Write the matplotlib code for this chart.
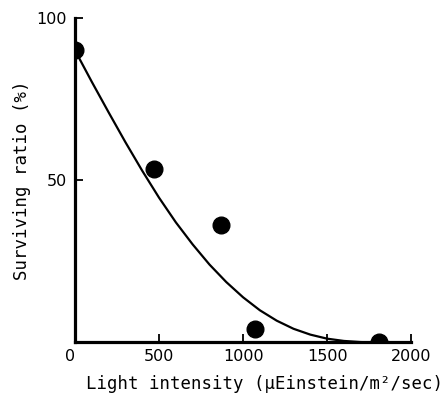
import numpy as np
import matplotlib
matplotlib.use("Agg")
import matplotlib.pyplot as plt

# measured points
light = [0, 472, 869, 1071, 1811]
surviving = [90, 53.3, 36.2, 4.1, 0]

# fitted curve
curve_x = [0, 100, 200, 300, 400, 500, 600, 700, 800, 900, 1000,
           1100, 1200, 1300, 1400, 1500, 1600, 1700, 1800]
curve_y = [90, 80.3, 70.9, 61.7, 52.9, 44.6, 37.0, 30.2, 24.0, 18.6, 13.9,
           9.9, 6.7, 4.2, 2.4, 1.15, 0.45, 0.1, 0]

xticks = [0, 500, 1000, 1500, 2000]
yticks = [50, 100]

fig = plt.figure(figsize=(4.44, 4.0), dpi=100)
ax = fig.add_axes([0.169, 0.144, 0.757, 0.811])

ax.plot(curve_x, curve_y, color="black", lw=1.6, zorder=2)
# points sitting on the axes are cut in half in the original
pts = ax.scatter(light, surviving, s=12**2, color="black", zorder=3)
pts.set_clip_path(ax.patch)

ax.set_xlim(0, 2000)
ax.set_ylim(0, 100)
ax.set_xticks(xticks)
ax.set_yticks(yticks)

for s in ["top", "right"]:
    ax.spines[s].set_visible(False)
for s in ["left", "bottom"]:
    ax.spines[s].set_linewidth(2.3)
    ax.spines[s].set_zorder(4)

ax.tick_params(axis="both", direction="in", length=6, width=1.3,
               labelsize=11.5)
ax.tick_params(axis="x", pad=5)
ax.tick_params(axis="y", pad=6)
ax.get_xticklabels()[0].set_ha("right")

ax.set_xlabel("Light intensity (\u03bcEinstein/m\u00b2/sec)",
              family="DejaVu Sans Mono", fontsize=12.5)
ax.set_ylabel("Surviving ratio (%)", family="DejaVu Sans Mono", fontsize=12.5)
ax.xaxis.set_label_coords(0.5625, -0.10)
ax.yaxis.set_label_coords(-0.13, 0.5)

fig.savefig("out.png", dpi=100)
